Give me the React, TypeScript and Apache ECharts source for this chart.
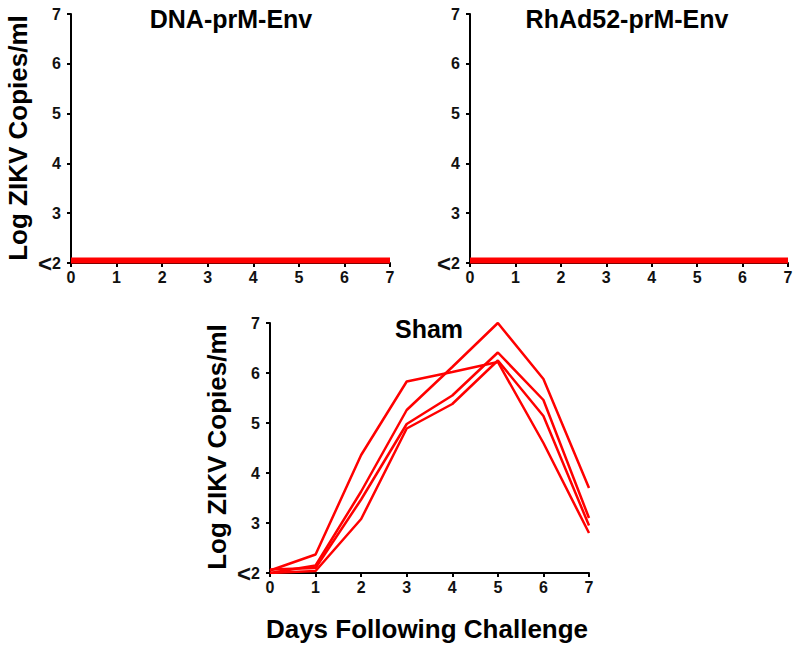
import React, { useEffect, useRef } from "react";
import * as echarts from "echarts";

const days = [0, 1, 2, 3, 4, 5, 6, 7];
const yTicks = [2, 3, 4, 5, 6, 7];

// DNA-prM-Env: all animals below limit of detection
const dnaA1 = [2.02, 2.02, 2.02, 2.02, 2.02, 2.02, 2.02, 2.02];
const dnaA2 = [2.04, 2.04, 2.04, 2.04, 2.04, 2.04, 2.04, 2.04];
const dnaA3 = [2.06, 2.06, 2.06, 2.06, 2.06, 2.06, 2.06, 2.06];
const dnaA4 = [2.08, 2.08, 2.08, 2.08, 2.08, 2.08, 2.08, 2.08];

// RhAd52-prM-Env: all animals below limit of detection
const rhA1 = [2.02, 2.02, 2.02, 2.02, 2.02, 2.02, 2.02, 2.02];
const rhA2 = [2.04, 2.04, 2.04, 2.04, 2.04, 2.04, 2.04, 2.04];
const rhA3 = [2.06, 2.06, 2.06, 2.06, 2.06, 2.06, 2.06, 2.06];
const rhA4 = [2.08, 2.08, 2.08, 2.08, 2.08, 2.08, 2.08, 2.08];

// Sham animals
const shamA1 = [2.05, 2.37, 4.36, 5.83, 6.02, 6.22, 4.6, 2.8];
const shamA2 = [2.0, 2.15, 3.63, 5.26, 6.12, 7.0, 5.88, 3.7];
const shamA3 = [2.07, 2.1, 3.47, 4.98, 5.55, 6.41, 5.46, 3.1];
const shamA4 = [2.0, 2.04, 3.08, 4.89, 5.38, 6.25, 5.14, 2.95];

const panelTitles = ["DNA-prM-Env", "RhAd52-prM-Env", "Sham"];
const yTitle = "Log ZIKV Copies/ml";
const xTitle = "Days Following Challenge";

const FONT = "'Liberation Sans', Arial, Helvetica, sans-serif";
const RED = "#ff0000";

export default function App() {
  const ref = useRef<HTMLDivElement>(null);

  useEffect(() => {
    if (!ref.current) return;
    const chart = echarts.init(ref.current, undefined, { renderer: "svg" });

    const grids = [
      { left: 71, top: 14, width: 319, height: 249 },
      { left: 470, top: 14, width: 318, height: 249 },
      { left: 270, top: 323, width: 319, height: 250 },
    ];

    const xAxes = grids.map((_, i) => ({
      type: "value",
      gridIndex: i,
      min: 0,
      max: 7,
      interval: 1,
      axisLine: { show: true, onZero: false, lineStyle: { color: "#000", width: 2 } },
      axisTick: { show: true, inside: false, length: 4, lineStyle: { color: "#000", width: 2 } },
      axisLabel: {
        margin: 6,
        color: "#111",
        fontFamily: FONT,
        fontWeight: "bold",
        fontSize: 16,
      },
      splitLine: { show: false },
    }));

    const yAxes = grids.map((_, i) => ({
      type: "value",
      gridIndex: i,
      min: 2,
      max: 7,
      interval: 1,
      axisLine: { show: true, onZero: false, lineStyle: { color: "#000", width: 2 } },
      axisTick: { show: true, inside: false, length: 4, lineStyle: { color: "#000", width: 2 } },
      axisLabel: {
        margin: 10,
        color: "#111",
        fontFamily: FONT,
        fontWeight: "bold",
        fontSize: 16,
        formatter: (v: number) => (v === yTicks[0] ? "{lt|<}" + v : String(v)),
        rich: {
          lt: { fontSize: 24, fontWeight: "bold", fontFamily: FONT, color: "#111" },
        },
      },
      splitLine: { show: false },
    }));

    const mk = (data: number[], idx: number, width: number) => ({
      type: "line",
      xAxisIndex: idx,
      yAxisIndex: idx,
      data: days.map((d, k) => [d, data[k]]),
      showSymbol: false,
      symbol: "none",
      lineStyle: { color: RED, width },
      itemStyle: { color: RED },
      z: 5,
    });

    const series = [
      mk(dnaA1, 0, 3), mk(dnaA2, 0, 3), mk(dnaA3, 0, 3), mk(dnaA4, 0, 3),
      mk(rhA1, 1, 3), mk(rhA2, 1, 3), mk(rhA3, 1, 3), mk(rhA4, 1, 3),
      mk(shamA1, 2, 2.5), mk(shamA2, 2, 2.5), mk(shamA3, 2, 2.5), mk(shamA4, 2, 2.5),
    ];

    const txt = (text: string, x: number, y: number, size: number, rot = 0) => ({
      type: "text",
      x,
      y,
      rotation: rot,
      style: {
        text,
        fill: "#000",
        fontSize: size,
        fontWeight: "bold",
        fontFamily: FONT,
        align: "center",
        verticalAlign: "middle",
      },
      z: 10,
    });

    chart.setOption({
      animation: false,
      backgroundColor: "#fff",
      grid: grids.map((g) => ({ ...g, containLabel: false })),
      xAxis: xAxes,
      yAxis: yAxes,
      series,
      graphic: [
        txt(panelTitles[0], 231, 19, 25),
        txt(panelTitles[1], 627, 19, 25),
        txt(panelTitles[2], 429, 329, 25),
        txt(yTitle, 18, 138, 26, Math.PI / 2),
        txt(yTitle, 217, 447, 26, Math.PI / 2),
        txt(xTitle, 427, 629, 26),
      ],
    });

    return () => chart.dispose();
  }, []);

  return (
    <div
      ref={ref}
      style={{ position: "fixed", left: 0, top: 0, width: 800, height: 650, background: "#fff" }}
    />
  );
}
